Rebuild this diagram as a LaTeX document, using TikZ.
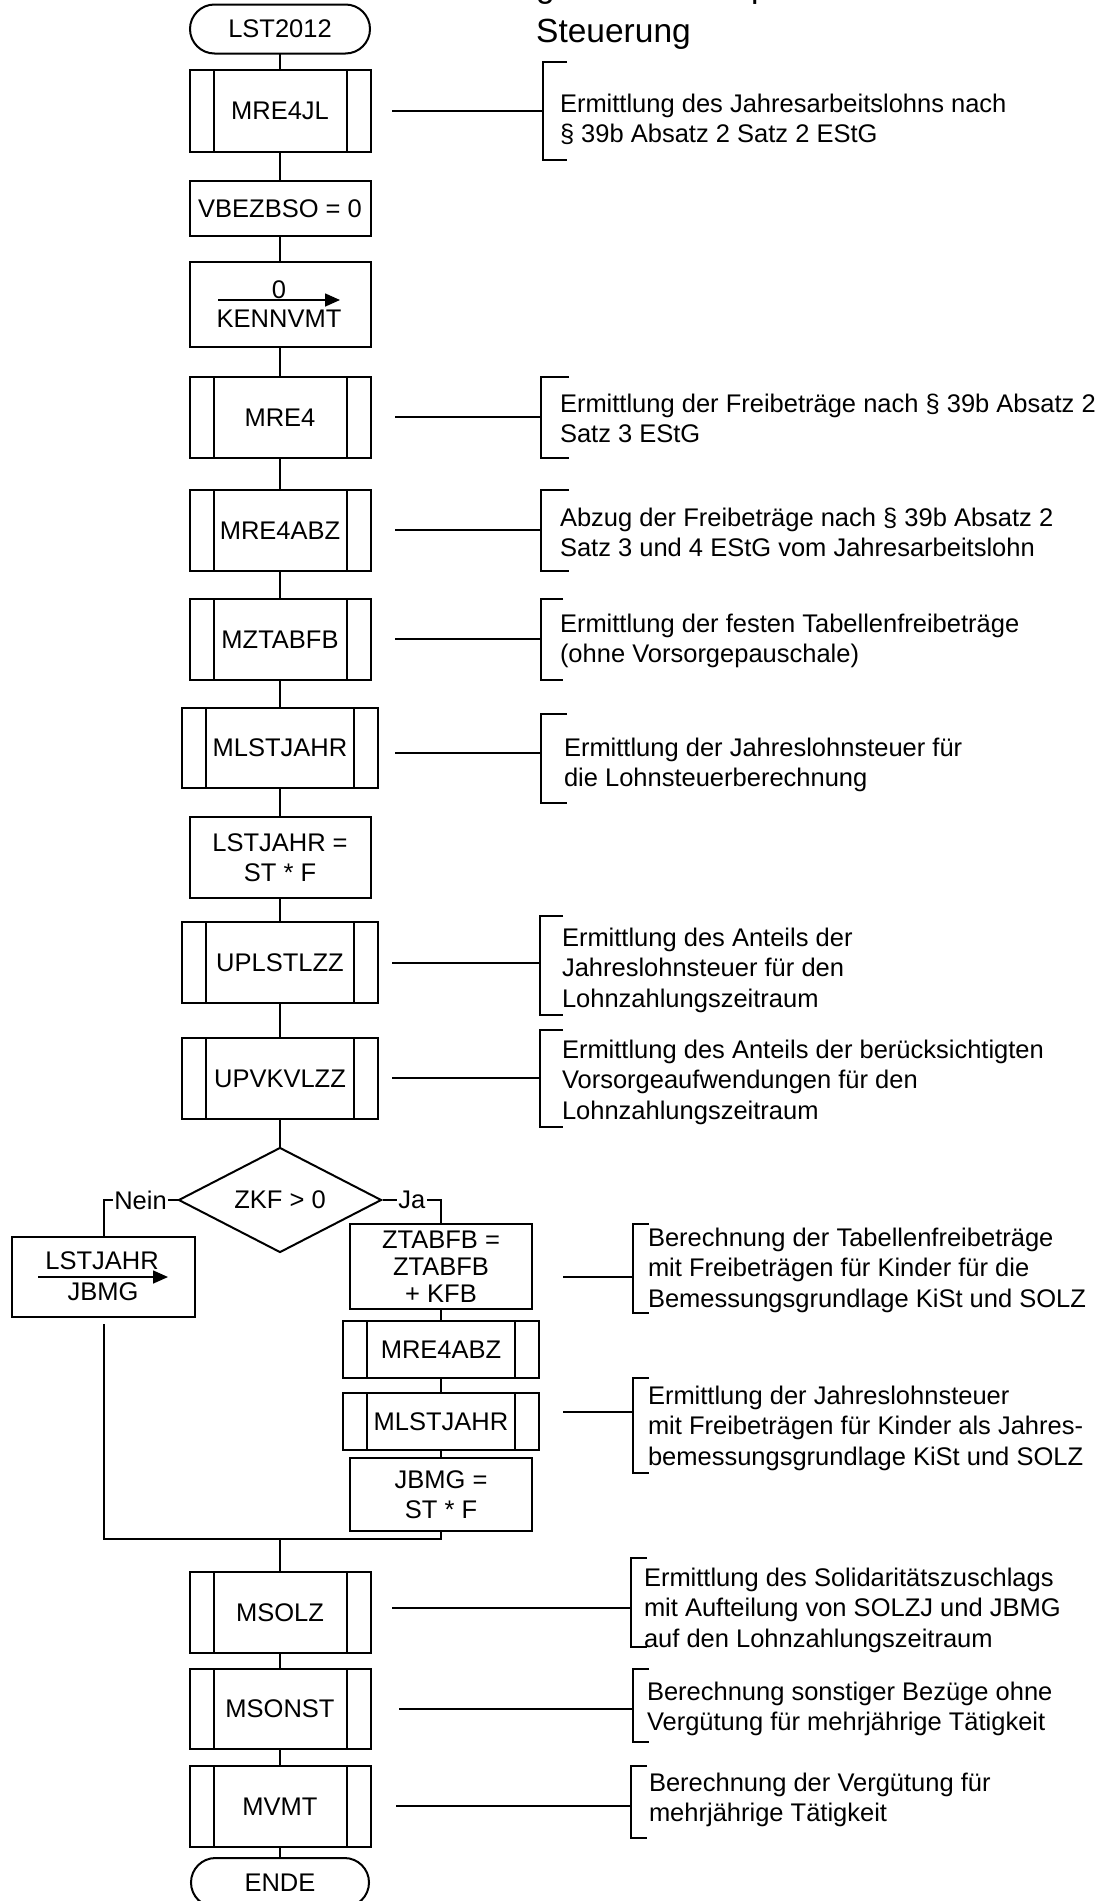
\documentclass[tikz,border=0pt]{standalone}
\usepackage{fontspec}
\setmainfont{Liberation Sans}
\usetikzlibrary{shapes.geometric,arrows.meta}
\tikzset{
  every node/.style={font=\fontsize{25.5pt}{30pt}\selectfont},
  ln/.style={line width=2pt},
  box/.style={draw, line width=2pt, rectangle, inner sep=0pt, outer sep=0pt, align=center},
  subbox/.style={box},
  pill/.style={box, rounded corners=24.5pt},
  ann/.style={anchor=base west, align=left, inner sep=0pt, outer sep=0pt, font=\fontsize{25.5pt}{30.5pt}\selectfont},
  lab/.style={fill=white, inner sep=1.5pt},
  brk/.style={line width=2.2pt},
  asg/.style={line width=1.6pt, -{Triangle[length=15pt,width=13pt]}},
}
\newcommand{\sidebars}[1]{%
  \draw[ln] ([xshift=24pt]#1.north west) -- ([xshift=24pt]#1.south west);
  \draw[ln] ([xshift=-24pt]#1.north east) -- ([xshift=-24pt]#1.south east);}
\newcommand{\bracketat}[4]{% x, ytop, ybot, tick x
  \draw[brk] (#4,#2) -- (#1,#2) -- (#1,#3) -- (#4,#3);}
\begin{document}
\begin{tikzpicture}[x=1pt,y=-1pt]
\fill[white] (0,0) rectangle (1108,1901);
\useasboundingbox (0,0) rectangle (1108,1901);

% title fragments
\node[anchor=base west, inner sep=0pt, font=\fontsize{33.5pt}{40pt}\selectfont] (fragg) at (536,-3) {g};
\node[anchor=base west, inner sep=0pt, font=\fontsize{33.5pt}{40pt}\selectfont] (fragp) at (751,-3) {p};
\node[anchor=base west, inner sep=0pt, font=\fontsize{33.5pt}{40pt}\selectfont] (title) at (536,42) {Steuerung};

% main column
\node[pill, minimum width=180pt, minimum height=49pt] (start) at (280,29) {LST2012};
\node[subbox, minimum width=181pt, minimum height=82pt] (mre4jl) at (280,111) {MRE4JL};
\sidebars{mre4jl}
\node[box, minimum width=181pt, minimum height=55pt] (vbez) at (280,208.5) {VBEZBSO = 0};
\node[box, minimum width=181pt, minimum height=85pt] (kenn) at (280,304.5) {};
\node[anchor=base, inner sep=0pt] (kenn0) at (279,298) {0};
\node[anchor=base, inner sep=0pt] (kenntxt) at (279,327) {KENNVMT};
\coordinate (kA) at (218,300);
\coordinate (kB) at (340,300);
\draw[asg] (kA) -- (kB);
\node[subbox, minimum width=181pt, minimum height=81pt] (mre4) at (280,417.5) {MRE4};
\sidebars{mre4}
\node[subbox, minimum width=181pt, minimum height=81pt] (mre4abz) at (280,530.5) {MRE4ABZ};
\sidebars{mre4abz}
\node[subbox, minimum width=181pt, minimum height=81pt] (mztabfb) at (280,639.5) {MZTABFB};
\sidebars{mztabfb}
\node[subbox, minimum width=196pt, minimum height=80pt] (mlstjahr) at (280,748) {MLSTJAHR};
\sidebars{mlstjahr}
\node[box, minimum width=181pt, minimum height=81pt] (lstjahr) at (280,857.5) {LSTJAHR =\\ST * F};
\node[subbox, minimum width=196pt, minimum height=81pt] (uplstlzz) at (280,962.5) {UPLSTLZZ};
\sidebars{uplstlzz}
\node[subbox, minimum width=196pt, minimum height=81pt] (upvkvlzz) at (280,1078.5) {UPVKVLZZ};
\sidebars{upvkvlzz}
\node[draw, diamond, line width=2pt, minimum width=203pt, minimum height=105pt, inner sep=0pt, aspect=2] (dia) at (280,1200) {ZKF > 0};

% left branch
\node[box, minimum width=183pt, minimum height=80pt] (nein) at (103.5,1277) {};
\node[anchor=base, inner sep=0pt] (neintop) at (102,1269) {LSTJAHR};
\node[anchor=base, inner sep=0pt] (neinbot) at (103,1300) {JBMG};
\coordinate (nA) at (38,1277);
\coordinate (nB) at (168,1277);
\draw[asg] (nA) -- (nB);

% right branch
\node[box, minimum width=182pt, minimum height=85pt, font=\fontsize{25.5pt}{27pt}\selectfont] (ztabfb) at (441,1266.5) {ZTABFB =\\ZTABFB\\+ KFB};
\node[subbox, minimum width=196pt, minimum height=57pt] (mre4abzb) at (441,1349.5) {MRE4ABZ};
\sidebars{mre4abzb}
\node[subbox, minimum width=196pt, minimum height=57pt] (mlstjahrb) at (441,1421.5) {MLSTJAHR};
\sidebars{mlstjahrb}
\node[box, minimum width=182pt, minimum height=73pt] (jbmg) at (441,1494.5) {JBMG =\\ST * F};

% lower main column
\node[subbox, minimum width=181pt, minimum height=81pt] (msolz) at (280,1612.5) {MSOLZ};
\sidebars{msolz}
\node[subbox, minimum width=181pt, minimum height=80pt] (msonst) at (280,1709) {MSONST};
\sidebars{msonst}
\node[subbox, minimum width=181pt, minimum height=81pt] (mvmt) at (280,1806.5) {MVMT};
\sidebars{mvmt}
\node[pill, minimum width=178pt, minimum height=49pt] (ende) at (280,1882.5) {ENDE};

% main connectors
\draw[ln] (start.south) -- (mre4jl.north);
\draw[ln] (mre4jl.south) -- (vbez.north);
\draw[ln] (vbez.south) -- (kenn.north);
\draw[ln] (kenn.south) -- (mre4.north);
\draw[ln] (mre4.south) -- (mre4abz.north);
\draw[ln] (mre4abz.south) -- (mztabfb.north);
\draw[ln] (mztabfb.south) -- (mlstjahr.north);
\draw[ln] (mlstjahr.south) -- (lstjahr.north);
\draw[ln] (lstjahr.south) -- (uplstlzz.north);
\draw[ln] (uplstlzz.south) -- (upvkvlzz.north);
\draw[ln] (upvkvlzz.south) -- (dia.north);
\draw[ln] (dia.west) -- node[lab] {Nein} (dia.west -| nein.north) -- (nein.north);
\draw[ln] (dia.east) -- node[lab] {Ja} (dia.east -| ztabfb.north) -- (ztabfb.north);
\draw[ln] (ztabfb.south) -- (mre4abzb.north);
\draw[ln] (mre4abzb.south) -- (mlstjahrb.north);
\draw[ln] (mlstjahrb.south) -- (jbmg.north);
\coordinate (gapstart) at ([yshift=-7pt]nein.south);
\coordinate (join) at (280,1539);
\draw[ln] (gapstart) -- (gapstart |- join) -- (jbmg.south |- join) -- (jbmg.south);
\draw[ln] (join) -- (msolz.north);
\draw[ln] (msolz.south) -- (msonst.north);
\draw[ln] (msonst.south) -- (mvmt.north);
\draw[ln] (mvmt.south) -- (ende.north);

% annotations (base anchor = baseline of last line)
\coordinate (s1) at (392,111); \coordinate (e1) at (543,111);
\draw[ln] (s1) -- (e1); \bracketat{543}{62}{160}{567}
\node[ann] (t1) at (560,142.5) {Ermittlung des Jahresarbeitslohns nach\\§ 39b Absatz 2 Satz 2 EStG};

\coordinate (s2) at (395,417); \coordinate (e2) at (541,417);
\draw[ln] (s2) -- (e2); \bracketat{541}{377}{458}{569}
\node[ann] (t2) at (560,442.5) {Ermittlung der Freibeträge nach § 39b Absatz 2\\Satz 3 EStG};

\coordinate (s3) at (395,530); \coordinate (e3) at (541,530);
\draw[ln] (s3) -- (e3); \bracketat{541}{490}{571}{569}
\node[ann] (t3) at (560,556.5) {Abzug der Freibeträge nach § 39b Absatz 2\\Satz 3 und 4 EStG vom Jahresarbeitslohn};

\coordinate (s4) at (395,639); \coordinate (e4) at (541,639);
\draw[ln] (s4) -- (e4); \bracketat{541}{599}{680}{563}
\node[ann] (t4) at (560,662.5) {Ermittlung der festen Tabellenfreibeträge\\(ohne Vorsorgepauschale)};

\coordinate (s5) at (395,753); \coordinate (e5) at (541,753);
\draw[ln] (s5) -- (e5); \bracketat{541}{714}{803}{567}
\node[ann] (t5) at (564,786.5) {Ermittlung der Jahreslohnsteuer für\\die Lohnsteuerberechnung};

\coordinate (s6) at (392,963); \coordinate (e6) at (540,963);
\draw[ln] (s6) -- (e6); \bracketat{540}{916}{1015}{563}
\node[ann] (t6) at (562,1007) {Ermittlung des Anteils der\\Jahreslohnsteuer für den\\Lohnzahlungszeitraum};

\coordinate (s7) at (392,1078); \coordinate (e7) at (540,1078);
\draw[ln] (s7) -- (e7); \bracketat{540}{1030}{1127}{563}
\node[ann] (t7) at (562,1119) {Ermittlung des Anteils der berücksichtigten\\Vorsorgeaufwendungen für den\\Lohnzahlungszeitraum};

\coordinate (s8) at (563,1277); \coordinate (e8) at (633,1277);
\draw[ln] (s8) -- (e8); \bracketat{633}{1224}{1313}{649}
\node[ann] (t8) at (648,1307) {Berechnung der Tabellenfreibeträge\\mit Freibeträgen für Kinder für die\\Bemessungsgrundlage KiSt und SOLZ};

\coordinate (s9) at (563,1412); \coordinate (e9) at (633,1412);
\draw[ln] (s9) -- (e9); \bracketat{633}{1378}{1473}{649}
\node[ann] (t9) at (648,1465) {Ermittlung der Jahreslohnsteuer\\mit Freibeträgen für Kinder als Jahres-\\bemessungsgrundlage KiSt und SOLZ};

\coordinate (s10) at (392,1608); \coordinate (e10) at (631,1608);
\draw[ln] (s10) -- (e10); \bracketat{631}{1558}{1647}{647}
\node[ann] (t10) at (644,1647) {Ermittlung des Solidaritätszuschlags\\mit Aufteilung von SOLZJ und JBMG\\auf den Lohnzahlungszeitraum};

\coordinate (s11) at (399,1709); \coordinate (e11) at (633,1709);
\draw[ln] (s11) -- (e11); \bracketat{633}{1669}{1742}{649}
\node[ann] (t11) at (647,1730.5) {Berechnung sonstiger Bezüge ohne\\Vergütung für mehrjährige Tätigkeit};

\coordinate (s12) at (396,1806); \coordinate (e12) at (631,1806);
\draw[ln] (s12) -- (e12); \bracketat{631}{1766}{1838}{647}
\node[ann] (t12) at (649,1821.5) {Berechnung der Vergütung für\\mehrjährige Tätigkeit};
\end{tikzpicture}
\end{document}
